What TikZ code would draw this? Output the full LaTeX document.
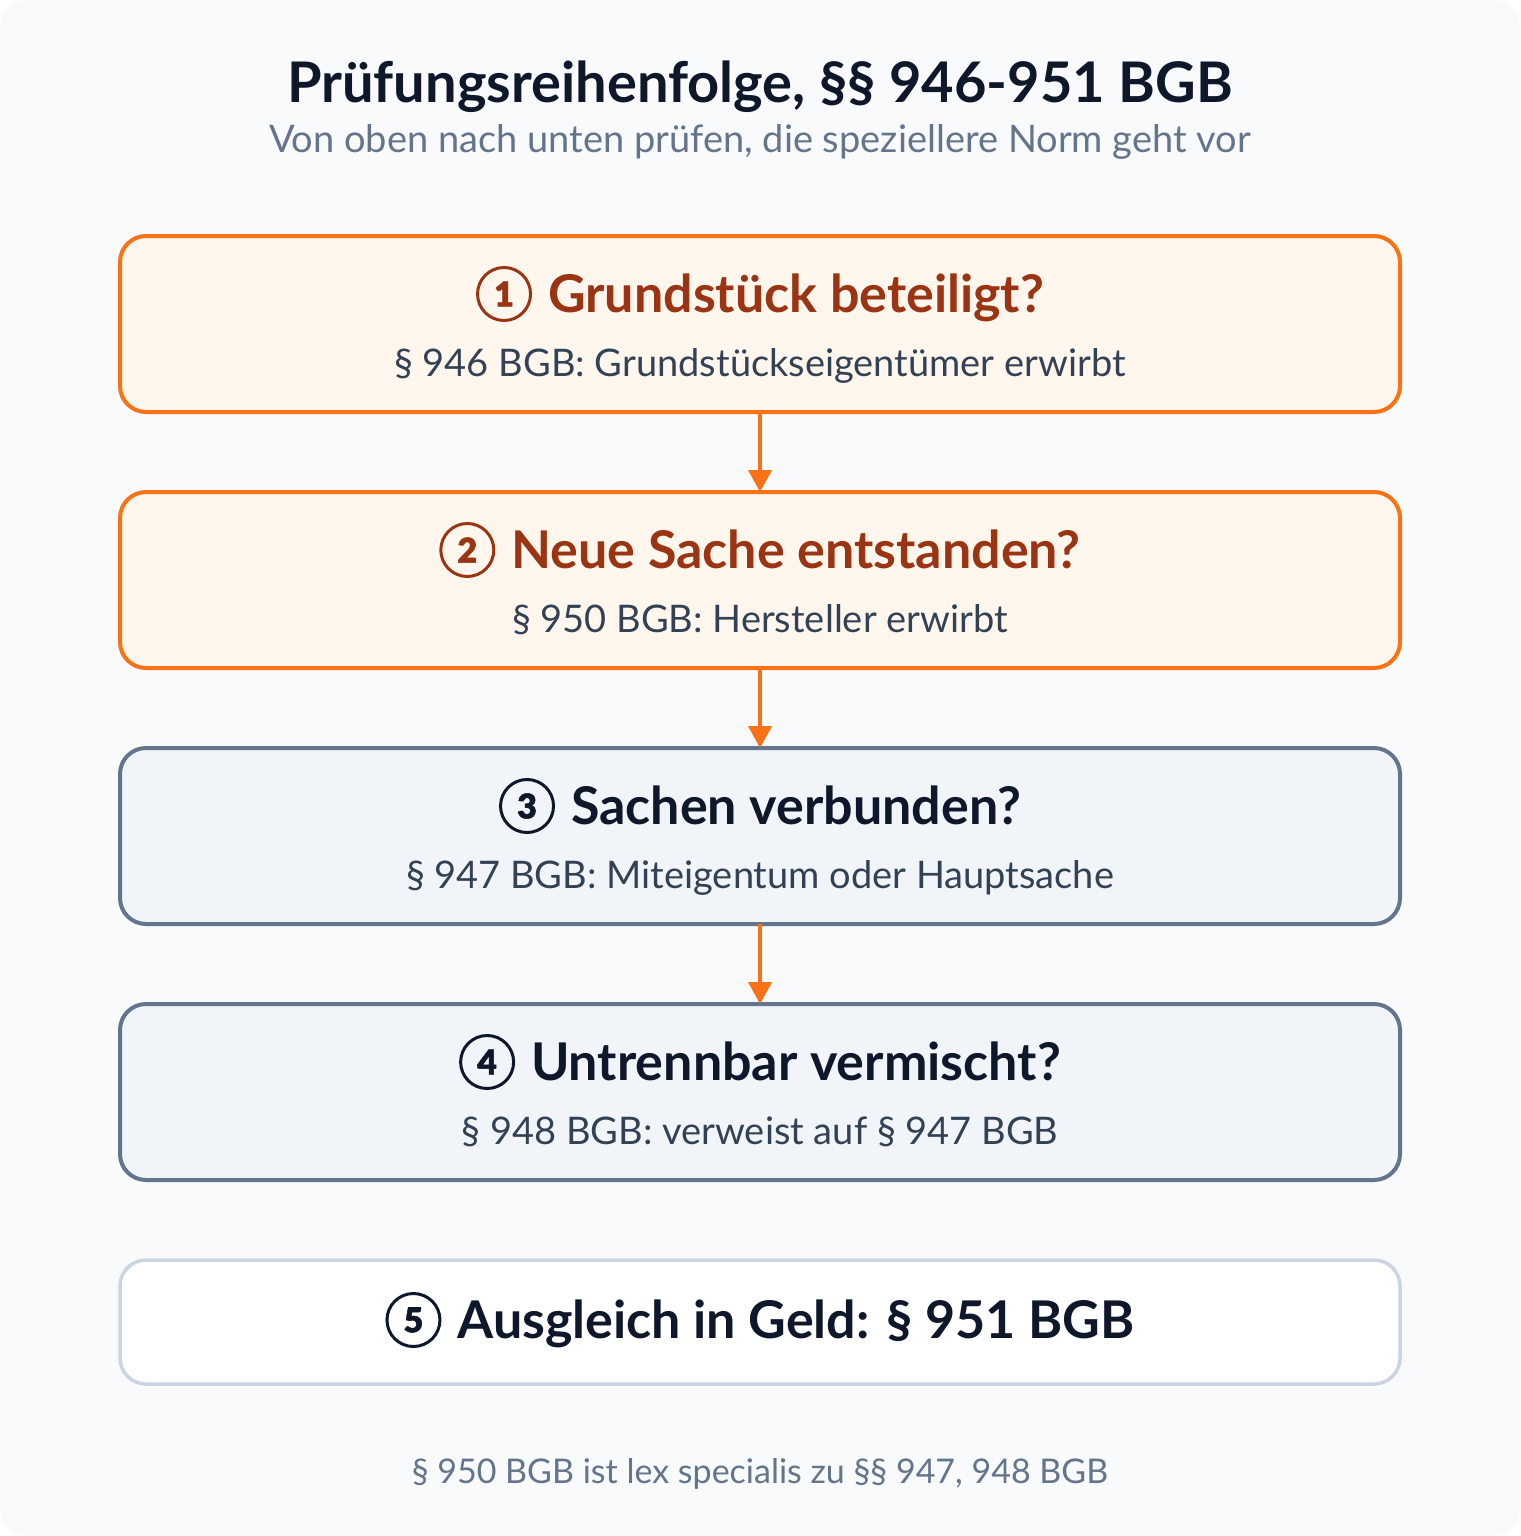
\documentclass[tikz,border=0pt]{standalone}
\usepackage{fontspec}
\setmainfont{Lato}
\newfontfamily\numFont{Lato}[UprightFont={* Bold}, FakeBold=1.5]
\usepackage{tikz}
\usetikzlibrary{positioning, arrows.meta}
\definecolor{pageBg}{HTML}{F8FAFC}
\definecolor{orangeLine}{HTML}{F97316}
\definecolor{orangeFill}{HTML}{FFF7ED}
\definecolor{rustText}{HTML}{9A3412}
\definecolor{slateLine}{HTML}{64748B}
\definecolor{slateFill}{HTML}{F1F5F9}
\definecolor{paleLine}{HTML}{CBD5E1}
\definecolor{inkDark}{HTML}{0F172A}
\definecolor{subGray}{HTML}{334155}
\definecolor{noteGray}{HTML}{64748B}
\tikzstyle{hotBox} = [rectangle, rounded corners=26pt, minimum width=1280pt, minimum height=176pt, line width=4pt, draw=orangeLine, fill=orangeFill, outer sep=0pt]
\tikzstyle{coolBox} = [hotBox, draw=slateLine, fill=slateFill]
\tikzstyle{plainBox} = [hotBox, minimum height=124pt, line width=3.5pt, draw=paleLine, fill=white]
\tikzstyle{arrow} = [line width=4pt, draw=orangeLine, -{Triangle[width=23pt, length=22pt, fill=orangeLine]}]
\tikzstyle{headText} = [anchor=base, inner sep=0pt, font=\fontsize{52}{62}\selectfont\bfseries]
\tikzstyle{subText} = [anchor=base, inner sep=0pt, text=subGray, font=\fontsize{38}{46}\selectfont]
\newcommand{\stepNum}[2]{\tikz[baseline={([yshift=-18pt]c.center)}]\node[circle, draw=#1, line width=3pt, minimum size=53pt, inner sep=0pt, text=#1, font=\numFont\fontsize{34}{34}\selectfont] (c) {#2};}

\begin{document}
\begin{tikzpicture}[node distance = 80pt]
\fill[white] (0,0) rectangle (1520pt,-1536pt);
\fill[pageBg, rounded corners=28pt] (0,0) rectangle (1520pt,-1536pt);
\useasboundingbox (0,0) rectangle (1520pt,-1536pt);
% title
\node (title) [anchor=base, inner sep=0pt, text=inkDark, font=\fontsize{56}{66}\selectfont\bfseries] at (760pt,-103pt) {Prüfungsreihenfolge, §§ 946-951 BGB};
\node (subtitle) [anchor=base, inner sep=0pt, text=noteGray, font=\fontsize{38}{46}\selectfont] at (760pt,-152pt) {Von oben nach unten prüfen, die speziellere Norm geht vor};
% boxes
\node (grund) [hotBox] at (760pt,-324pt) {};
\node (neu) [hotBox, below=of grund] {};
\node (verb) [coolBox, below=of neu] {};
\node (misch) [coolBox, below=of verb] {};
\node (geld) [plainBox, below=of misch] {};
% texts
\node (grundH) [headText, text=rustText] at ([yshift=-76pt]grund.north) {\stepNum{rustText}{1}\hspace{16pt}Grundstück beteiligt?};
\node (grundS) [subText] at ([yshift=-140pt]grund.north) {§ 946 BGB: Grundstückseigentümer erwirbt};
\node (neuH) [headText, text=rustText] at ([yshift=-76pt]neu.north) {\stepNum{rustText}{2}\hspace{16pt}Neue Sache entstanden?};
\node (neuS) [subText] at ([yshift=-140pt]neu.north) {§ 950 BGB: Hersteller erwirbt};
\node (verbH) [headText, text=inkDark] at ([yshift=-76pt]verb.north) {\stepNum{inkDark}{3}\hspace{16pt}Sachen verbunden?};
\node (verbS) [subText] at ([yshift=-140pt]verb.north) {§ 947 BGB: Miteigentum oder Hauptsache};
\node (mischH) [headText, text=inkDark] at ([yshift=-76pt]misch.north) {\stepNum{inkDark}{4}\hspace{16pt}Untrennbar vermischt?};
\node (mischS) [subText] at ([yshift=-140pt]misch.north) {§ 948 BGB: verweist auf § 947 BGB};
\node (geldH) [headText, text=inkDark] at ([yshift=-78pt]geld.north) {\stepNum{inkDark}{5}\hspace{16pt}Ausgleich in Geld: § 951 BGB};
% arrows
\draw [arrow] (grund) -- (neu);
\draw [arrow] (neu) -- (verb);
\draw [arrow] (verb) -- (misch);
% note
\node (note) [anchor=base, inner sep=0pt, text=noteGray, font=\fontsize{34}{42}\selectfont] at (760pt,-1483pt) {§ 950 BGB ist lex specialis zu §§ 947, 948 BGB};
\end{tikzpicture}
\end{document}
